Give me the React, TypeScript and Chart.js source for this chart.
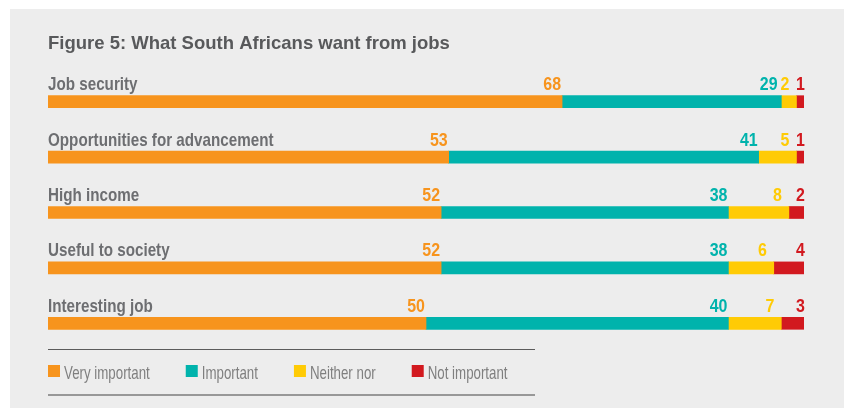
import React, { useEffect, useRef } from 'react';
import { Chart, registerables } from 'chart.js';

Chart.register(...registerables);

const chartTitle = 'Figure 5: What South Africans want from jobs';
const categories = [
  'Job security',
  'Opportunities for advancement',
  'High income',
  'Useful to society',
  'Interesting job',
];
const seriesNames = ['Very important', 'Important', 'Neither nor', 'Not important'];
const veryImportant = [68, 53, 52, 52, 50];
const important = [29, 41, 38, 38, 40];
const neitherNor = [2, 5, 8, 6, 7];
const notImportant = [1, 1, 2, 4, 3];
const seriesColors = ['#F7941D', '#00B3AC', '#FFCB05', '#D2191F'];

const FONT = '"Liberation Sans", Arial, Helvetica, sans-serif';

function measure(ctx: CanvasRenderingContext2D, text: string, weight: string, size: number, sx: number): number {
  ctx.save();
  ctx.font = `${weight} ${size}px ${FONT}`;
  const w = ctx.measureText(text).width * sx;
  ctx.restore();
  return w;
}

function drawText(
  ctx: CanvasRenderingContext2D,
  text: string,
  x: number,
  y: number,
  weight: string,
  size: number,
  color: string,
  sx: number,
  align: CanvasTextAlign
): number {
  ctx.save();
  ctx.font = `${weight} ${size}px ${FONT}`;
  ctx.fillStyle = color;
  ctx.textBaseline = 'alphabetic';
  ctx.textAlign = align;
  ctx.translate(x, y);
  ctx.scale(sx, 1);
  ctx.fillText(text, 0, 0);
  const w = ctx.measureText(text).width * sx;
  ctx.restore();
  return w;
}

const labelOffsets = [-1, -1, -7, 1];

const decorPlugin = {
  id: 'decor',
  beforeDraw(chart: any) {
    const ctx: CanvasRenderingContext2D = chart.ctx;
    ctx.save();
    ctx.fillStyle = '#ffffff';
    ctx.fillRect(0, 0, chart.width, chart.height);
    ctx.fillStyle = '#ededed';
    ctx.fillRect(10, 9, chart.width - 10, chart.height - 9);
    ctx.restore();
  },
  afterDatasetsDraw(chart: any) {
    const ctx: CanvasRenderingContext2D = chart.ctx;
    const left = chart.chartArea.left;
    // title
    drawText(ctx, chartTitle, left, 49, 'bold', 18.5, '#58595b', 1, 'left');

    const meta0 = chart.getDatasetMeta(0);
    const nds = chart.data.datasets.length;
    categories.forEach((cat, i) => {
      const el = meta0.data[i];
      const top = el.y - el.height / 2;
      const base = top - 5.5;
      drawText(ctx, cat, left, base, 'bold', 19, '#6d6e71', 0.8, 'left');
      let nextLeft = Infinity;
      for (let d = nds - 1; d >= 0; d--) {
        const ds = chart.data.datasets[d];
        const e = chart.getDatasetMeta(d).data[i];
        const txt = String(ds.data[i]);
        const w = measure(ctx, txt, 'bold', 19, 0.84);
        const right = Math.min(e.x + labelOffsets[d], nextLeft - 3);
        drawText(ctx, txt, right, base, 'bold', 19, seriesColors[d], 0.84, 'right');
        nextLeft = right - w;
      }
    });

    // legend
    ctx.save();
    ctx.fillStyle = '#5b5b5b';
    ctx.fillRect(48, 349, 487, 1);
    ctx.fillStyle = '#989898';
    ctx.fillRect(48, 394, 487, 2);
    ctx.restore();
    let x = 48;
    seriesNames.forEach((name, d) => {
      ctx.fillStyle = seriesColors[d];
      ctx.fillRect(x, 365, 12, 12);
      const w = drawText(ctx, name, x + 16, 378.5, 'normal', 19, '#7f7f7f', 0.7, 'left');
      x = x + 16 + w + 36;
    });
  },
};

export default function App() {
  const ref = useRef<HTMLCanvasElement | null>(null);
  useEffect(() => {
    const canvas = ref.current;
    if (!canvas) return;
    const series = [veryImportant, important, neitherNor, notImportant];
    const chart = new Chart(canvas, {
      type: 'bar',
      data: {
        labels: categories,
        datasets: series.map((vals, d) => ({
          label: seriesNames[d],
          data: vals,
          backgroundColor: seriesColors[d],
          borderWidth: 0,
          barThickness: 12,
        })),
      },
      options: {
        indexAxis: 'y',
        responsive: false,
        animation: false,
        devicePixelRatio: 1,
        events: [],
        layout: { padding: { left: 48, right: 40, top: 74, bottom: 57 } },
        scales: {
          x: { stacked: true, min: 0, max: 100, display: false },
          y: { stacked: true, display: false },
        },
        plugins: {
          legend: { display: false },
          title: { display: false },
          tooltip: { enabled: false },
        },
      },
      plugins: [decorPlugin],
    } as any);
    return () => chart.destroy();
  }, []);
  return (
    <div style={{ position: 'absolute', left: 0, top: 0, width: 844, height: 408 }}>
      <canvas ref={ref} width={844} height={408} style={{ display: 'block' }} />
    </div>
  );
}
